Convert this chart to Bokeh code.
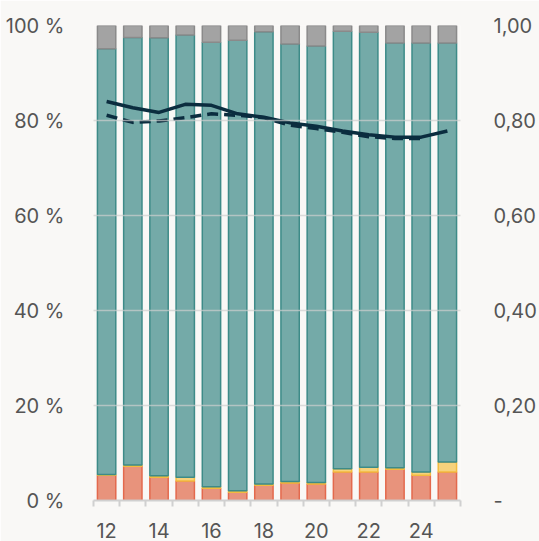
from bokeh.plotting import figure
from bokeh.models import FixedTicker, LinearAxis, Range1d, ColumnDataSource
from bokeh.embed import file_html
from bokeh.resources import INLINE

years = [12, 13, 14, 15, 16, 17, 18, 19, 20, 21, 22, 23, 24, 25]
salmon = [5.3, 7.2, 4.9, 4.1, 2.6, 1.75, 3.2, 3.7, 3.5, 6.0, 6.0, 6.6, 5.3, 6.0]
yellow = [0.2, 0.3, 0.3, 0.8, 0.3, 0.3, 0.3, 0.3, 0.3, 0.7, 1.0, 0.3, 0.7, 2.1]
teal = [89.6, 90.0, 92.2, 93.1, 93.6, 94.85, 95.2, 92.1, 91.9, 92.1, 91.6, 89.4, 90.3, 88.2]
gray = [4.9, 2.5, 2.6, 2.0, 3.5, 3.1, 1.3, 3.9, 4.3, 1.2, 1.4, 3.7, 3.7, 3.7]

solid_years = years
solid_vals = [0.840, 0.827, 0.817, 0.834, 0.832, 0.814, 0.807, 0.795, 0.788, 0.778, 0.770, 0.765, 0.765, 0.778]
dashed_years = years[:13]
dashed_vals = [0.811, 0.796, 0.799, 0.806, 0.814, 0.811, 0.806, 0.790, 0.783, 0.775, 0.766, 0.762, 0.762]

x_labels = [12, 14, 16, 18, 20, 22, 24]
left_ticks = [0, 20, 40, 60, 80, 100]
left_labels = ["0 %", "20 %", "40 %", "60 %", "80 %", "100 %"]
right_ticks = [0, 0.2, 0.4, 0.6, 0.8, 1.0]
right_labels = ["-", "0,20", "0,40", "0,60", "0,80", "1,00"]

BG = "#f9f8f6"
TXT = "#555555"
FONT = "Inter"

p = figure(width=539, height=541, output_backend="svg", toolbar_location=None,
           x_range=Range1d(years[0] - 0.5, years[-1] + 0.5), y_range=Range1d(0, 100),
           min_border_left=93, min_border_right=76, min_border_top=25, min_border_bottom=41,
           background_fill_color=BG, border_fill_color=BG, outline_line_color=None,
           y_axis_location=None)

p.extra_y_ranges = {"r": Range1d(0, 1)}

src = ColumnDataSource(dict(x=years, salmon=salmon, yellow=yellow, teal=teal, gray=gray))
p.vbar_stack(["salmon", "yellow", "teal", "gray"], x="x", width=0.7, source=src,
             fill_color=["#e8937c", "#f6d27c", "#74aaa8", "#a3a3a3"],
             line_color=["#e3694d", "#f3bb3e", "#3d8b88", "#8a8a8a"], line_width=1.5)

p.line(solid_years, solid_vals, y_range_name="r", line_color="#0b2d3f", line_width=3.5)
p.line(dashed_years, dashed_vals, y_range_name="r", line_color="#0b2d3f", line_width=3.5,
       line_dash="11 6")

# axes
la = LinearAxis(ticker=FixedTicker(ticks=left_ticks),
                major_label_overrides={t: l for t, l in zip(left_ticks, left_labels)})
ra = LinearAxis(y_range_name="r", ticker=FixedTicker(ticks=right_ticks),
                major_label_overrides={t: l for t, l in zip(right_ticks, right_labels)})
for ax, so in ((la, 23), (ra, 27)):
    ax.axis_line_color = None
    ax.major_tick_line_color = None
    ax.minor_tick_line_color = None
    ax.major_label_text_font = FONT
    ax.major_label_text_font_size = "20px"
    ax.major_label_text_color = TXT
    ax.major_label_standoff = so
p.add_layout(la, "left")
p.add_layout(ra, "right")

xa = p.xaxis[0]
xa.ticker = FixedTicker(ticks=x_labels, minor_ticks=[y - 0.5 for y in years] + [years[-1] + 0.5])
xa.major_tick_line_color = None
xa.minor_tick_line_color = "#d0d0d0"
xa.minor_tick_line_width = 2
xa.minor_tick_in = 0
xa.minor_tick_out = 6
xa.axis_line_color = "#d0d0d0"
xa.axis_line_width = 2
xa.major_label_text_font = FONT
xa.major_label_text_font_size = "20px"
xa.major_label_text_color = TXT
xa.major_label_standoff = 16

p.xgrid.visible = False
p.ygrid.ticker = FixedTicker(ticks=left_ticks)
p.ygrid.grid_line_color = "#cfcfcf"
p.ygrid.grid_line_alpha = 0.7
p.ygrid.grid_line_width = 1.5
p.ygrid.level = "annotation"

open("out.html", "w").write(file_html(p, INLINE))
